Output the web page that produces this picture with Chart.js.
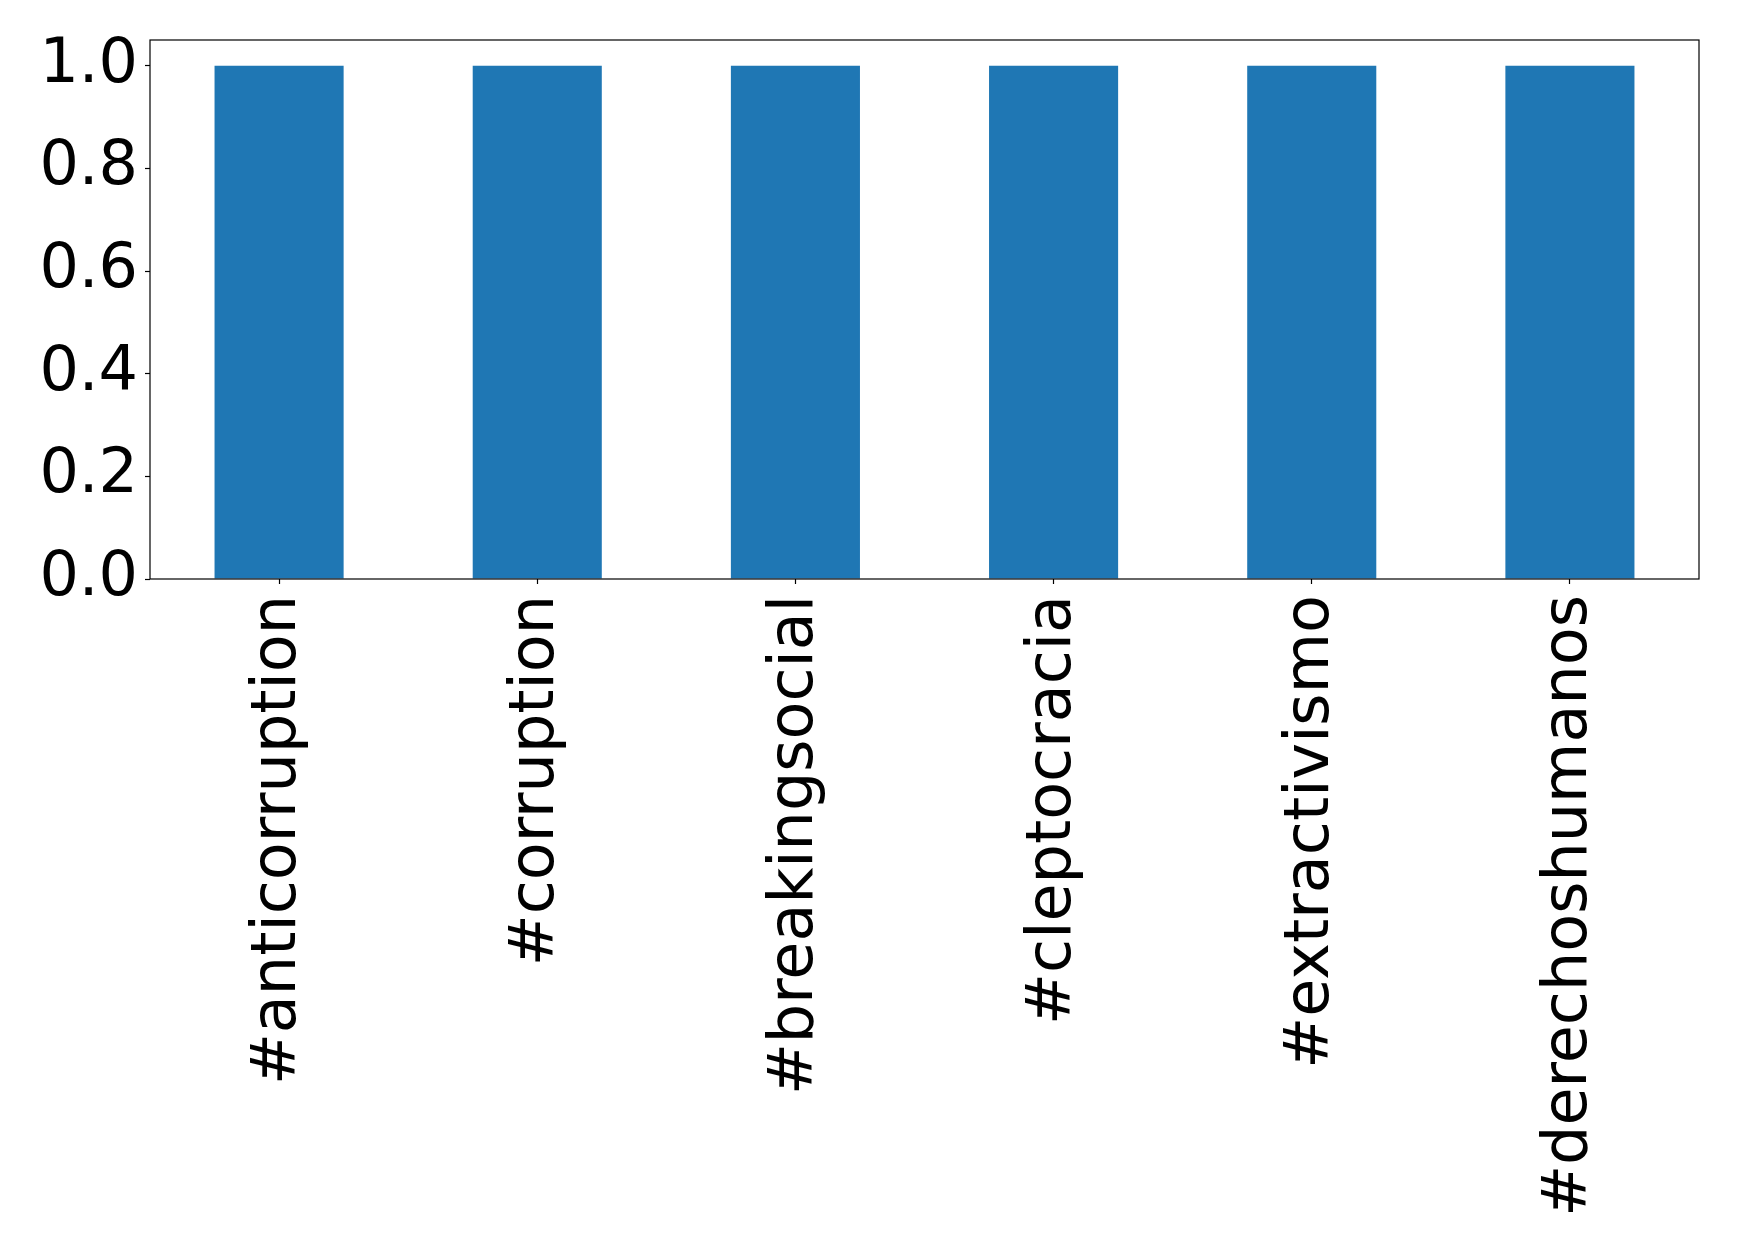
<!DOCTYPE html>
<html>
<head>
<meta charset="utf-8">
<script src="https://cdn.jsdelivr.net/npm/chart.js@4"></script>
<style>
  html, body { margin: 0; padding: 0; background: #fff; }
  #wrap { width: 1739px; height: 1255px; }
</style>
</head>
<body>
<div id="wrap"><canvas id="myChart" width="1739" height="1255"></canvas></div>
<script>
const hashtags = ["#anticorruption", "#corruption", "#breakingsocial", "#cleptocracia", "#extractivismo", "#derechoshumanos"];
const counts = [1, 1, 1, 1, 1, 1];
const yTicks = [0.0, 0.2, 0.4, 0.6, 0.8, 1.0];

// frame round the plot area, like matplotlib spines
const frame = {
    id: "frame",
    afterDraw(chart) {
        const a = chart.chartArea;
        const c = chart.ctx;
        c.save();
        c.strokeStyle = "#000";
        c.lineWidth = 1.2;
        c.strokeRect(a.left, a.top, a.right - a.left, a.bottom - a.top);
        c.restore();
    }
};

const ctx = document.getElementById("myChart").getContext("2d");
const myChart = new Chart(ctx, {
    type: "bar",
    data: {
        labels: hashtags,
        datasets: [{
            data: counts,
            backgroundColor: "#1f77b4",
            borderWidth: 0,
            barPercentage: 0.5,
            categoryPercentage: 1.0
        }]
    },
    options: {
        responsive: false,
        animation: false,
        layout: { padding: { top: 40, right: 40, left: 0, bottom: 0 } },
        plugins: { legend: { display: false }, tooltip: { enabled: false } },
        scales: {
            x: {
                grid: { drawOnChartArea: false, offset: false, tickLength: 5, tickColor: "#000", tickWidth: 1.2 },
                border: { display: false },
                ticks: {
                    color: "#000",
                    font: { family: "DejaVu Sans", size: 62 },
                    minRotation: 90,
                    maxRotation: 90,
                    autoSkip: false,
                    padding: 11
                },
                afterFit(scale) { scale.height = 676; }
            },
            y: {
                min: 0,
                max: 1.05,
                grid: { drawOnChartArea: false, tickLength: 5, tickColor: "#000", tickWidth: 1.2 },
                border: { display: false },
                afterBuildTicks(scale) { scale.ticks = yTicks.map(v => ({ value: v })); },
                ticks: {
                    color: "#000",
                    font: { family: "DejaVu Sans", size: 62 },
                    padding: 7,
                    callback: v => v.toFixed(1)
                },
                afterFit(scale) {
                    scale.width = 150;
                    scale.paddingTop = 0;
                    scale.paddingBottom = 0;
                }
            }
        }
    },
    plugins: [frame]
});
</script>
</body>
</html>
